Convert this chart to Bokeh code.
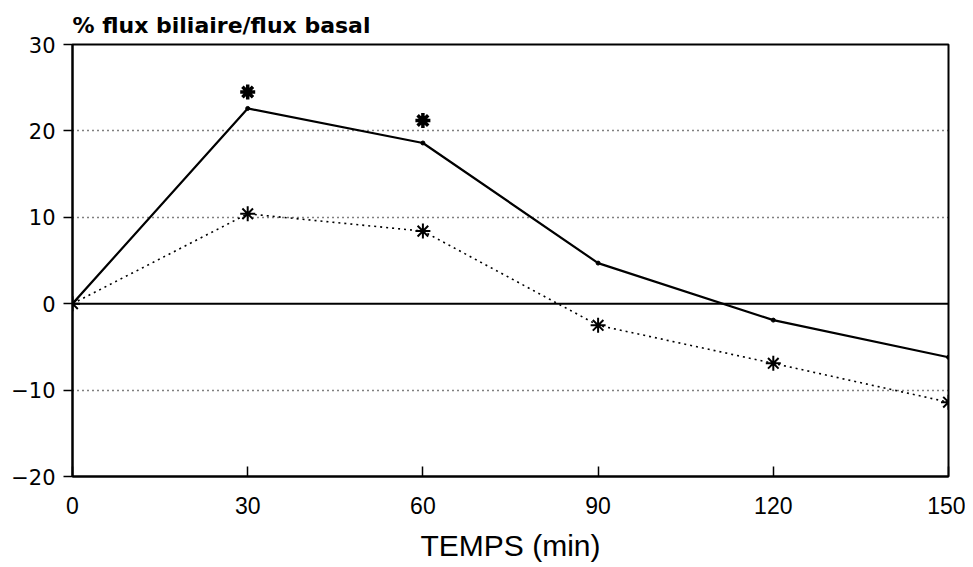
from bokeh.plotting import figure
from bokeh.models import Range1d, FixedTicker, Span, ColumnDataSource
from bokeh.embed import file_html
from bokeh.resources import INLINE

# Data
times = [0, 30, 60, 90, 120, 150]
solid_vals = [0, 22.6, 18.6, 4.7, -1.9, -6.2]
dotted_vals = [0, 10.4, 8.4, -2.5, -6.9, -11.4]
sig_times = [30, 60]
sig_vals = [24.5, 21.2]
x_ticks = [0, 30, 60, 90, 120, 150]
y_ticks = [-20, -10, 0, 10, 20, 30]
grid_ticks = [-10, 10, 20]

p = figure(width=965, height=564, output_backend="svg", toolbar_location=None,
           x_range=Range1d(0, 150), y_range=Range1d(-20, 30),
           min_border_left=72, min_border_right=17, min_border_top=44, min_border_bottom=83)

p.title.text = "% flux biliaire/flux basal"
p.title.align = "left"
p.title.offset = 0
p.title.text_font = "DejaVu Sans"
p.title.text_font_size = "22px"
p.title.text_font_style = "bold"
p.title.text_color = "black"
p.title.standoff = 14

p.outline_line_color = "black"
p.outline_line_width = 2
p.outline_line_alpha = 1

# Axes
xa = p.xaxis[0]
xa.ticker = FixedTicker(ticks=x_ticks)
xa.axis_line_width = 2
xa.axis_line_color = "black"
xa.major_tick_in = 10
xa.major_tick_out = 0
xa.major_tick_line_width = 1.5
xa.major_tick_line_color = "black"
xa.minor_tick_line_color = None
xa.major_label_text_font = "Liberation Sans"
xa.major_label_text_font_size = "23px"
xa.major_label_text_color = "black"
xa.major_label_standoff = 20
xa.axis_label = "TEMPS (min)"
xa.axis_label_text_font = "Liberation Sans"
xa.axis_label_text_font_size = "30px"
xa.axis_label_text_font_style = "normal"
xa.axis_label_text_color = "black"
xa.axis_label_standoff = 12

ya = p.yaxis[0]
ya.ticker = FixedTicker(ticks=y_ticks)
ya.axis_line_width = 2
ya.axis_line_color = "black"
ya.major_tick_in = 0
ya.major_tick_out = 9
ya.major_tick_line_width = 1.5
ya.major_tick_line_color = "black"
ya.minor_tick_line_color = None
ya.major_label_text_font = "DejaVu Sans"
ya.major_label_text_font_size = "21px"
ya.major_label_text_color = "black"
ya.major_label_standoff = 8

# Grid
p.xgrid.visible = False
p.ygrid.ticker = FixedTicker(ticks=grid_ticks)
p.ygrid.grid_line_color = "black"
p.ygrid.grid_line_dash = "1 4"
p.ygrid.grid_line_width = 1.5
p.ygrid.grid_line_alpha = 1

zero = Span(location=0, dimension="width", line_color="black", line_width=2)
p.add_layout(zero)

src = ColumnDataSource(dict(t=times, s=solid_vals, d=dotted_vals))
sig = ColumnDataSource(dict(t=sig_times, v=sig_vals))

p.line("t", "s", source=src, line_color="black", line_width=2.2)
p.scatter("t", "s", source=src, marker="circle", size=4, color="black")

p.line("t", "d", source=src, line_color="black", line_width=1.6, line_dash="2 4")
p.scatter("t", "d", source=src, marker="asterisk", size=15, line_color="black", line_width=2)

p.scatter("t", "v", source=sig, marker="asterisk", size=15, line_color="black", line_width=3.5)

open("out.html", "w").write(file_html(p, INLINE))
